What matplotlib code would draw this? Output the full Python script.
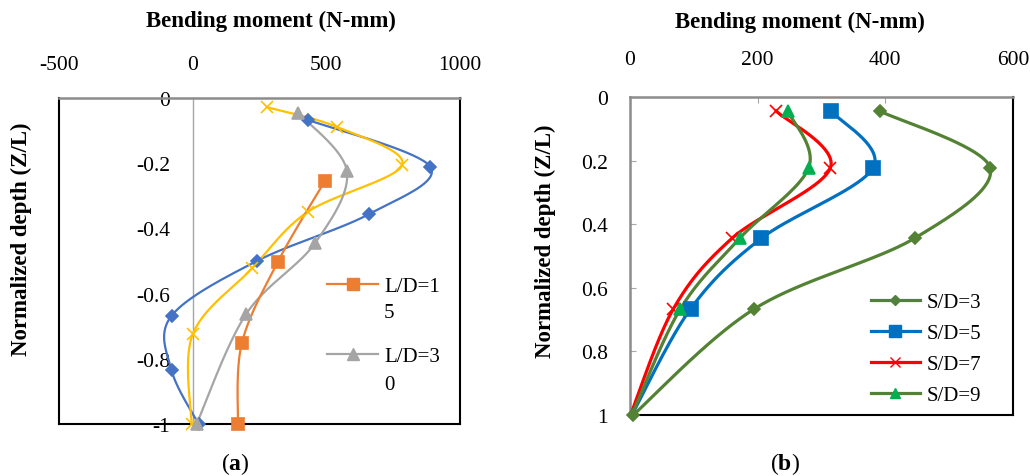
import numpy as np
import matplotlib
matplotlib.use("Agg")
import matplotlib.pyplot as plt
from matplotlib.lines import Line2D

plt.rcParams['font.family'] = ['Liberation Serif', 'DejaVu Serif']
plt.rcParams['mathtext.fontset'] = 'custom'
plt.rcParams['mathtext.rm'] = 'Liberation Serif'
plt.rcParams['mathtext.bf'] = 'Liberation Serif:bold'

# ---------------- data: panel (a) ----------------
a_blue_x = [431, 889, 660, 240, -79, -79, 22]
a_blue_y = [-0.067, -0.211, -0.356, -0.500, -0.668, -0.835, -1.0]
a_yellow_x = [277, 540, 784, 431, 223, 0, -4]
a_yellow_y = [-0.028, -0.089, -0.205, -0.349, -0.522, -0.725, -1.0]
a_gray_x = [394, 577, 457, 199, 15]
a_gray_y = [-0.045, -0.225, -0.446, -0.664, -1.0]
a_orange_x = [495, 319, 184, 169]
a_orange_y = [-0.254, -0.502, -0.752, -1.0]
a_xticks = [-500, 0, 500, 1000]
a_yticks = [0, -0.2, -0.4, -0.6, -0.8, -1]
a_ytick_labels = ['0', '-0.2', '-0.4', '-0.6', '-0.8', '-1']
a_legend_first = ['L/D=1', 'L/D=3']   # legend text wraps onto a second line
a_legend_second = ['5', '0']

# ---------------- data: panel (b) ----------------
b_y = [0.044, 0.222, 0.444, 0.666, 1.0]
b_sd3_x = [391, 564, 446, 195, 5]
b_sd5_x = [315, 381, 206, 95, 3]
b_sd7_x = [229, 314, 160, 68, 1]
b_sd9_x = [247, 280, 172, 79, 3]
b_labels = ['S/D=3', 'S/D=5', 'S/D=7', 'S/D=9']
b_xticks = [0, 200, 400, 600]
b_yticks = [0, 0.2, 0.4, 0.6, 0.8, 1]
b_ytick_labels = ['0', '0.2', '0.4', '0.6', '0.8', '1']

W, H = 1030, 477
fig = plt.figure(figsize=(W / 100, H / 100), dpi=100)


def fx(px):
    return px / W


def fy(py):
    return 1 - py / H


def smooth(ax, xs, ys, n=40):
    """Excel-like smoothed line (Catmull-Rom Bezier) computed in display space."""
    pts = ax.transData.transform(np.column_stack([xs, ys]))
    P = np.vstack([pts[0], pts, pts[-1]])
    out = []
    t = np.linspace(0, 1, n)[:, None]
    for i in range(1, len(P) - 2):
        p0, p1, p2, p3 = P[i - 1], P[i], P[i + 1], P[i + 2]
        c1 = p1 + (p2 - p0) / 6.0
        c2 = p2 - (p3 - p1) / 6.0
        seg = ((1 - t) ** 3) * p1 + 3 * ((1 - t) ** 2) * t * c1 + 3 * (1 - t) * t ** 2 * c2 + t ** 3 * p2
        out.append(seg if i == 1 else seg[1:])
    out = np.vstack(out)
    data = ax.transData.inverted().transform(out)
    return data[:, 0], data[:, 1]


tick_fs = 15.5
lab_fs = 16.5
leg_fs = 15
GRAY = '#A6A6A6'
DGRAY = '#8C8C8C'

# ================= panel (a) =================
axa = fig.add_axes([fx(59), fy(425), (460 - 59) / W, (425 - 99) / H])
axa.set_xlim(-500, 1000)
axa.set_ylim(-1, 0)
axa.xaxis.tick_top()
axa.set_xticks(a_xticks)
axa.set_xticklabels([str(v) for v in a_xticks])
axa.set_yticks(a_yticks)
axa.set_yticklabels(a_ytick_labels)
axa.tick_params(axis='both', length=0, labelsize=tick_fs)
axa.tick_params(axis='x', pad=17)
axa.tick_params(axis='y', pad=16)
axa.spines['left'].set_position(('data', 0))
axa.spines['left'].set_color(GRAY)
axa.spines['left'].set_linewidth(1.0)
axa.spines['top'].set_color(DGRAY)
axa.spines['top'].set_linewidth(1.8)
for s in ['bottom', 'right']:
    axa.spines[s].set_color('black')
    axa.spines[s].set_linewidth(1.5)
axa.plot([0, 0], [0, 1], transform=axa.transAxes, color='black', lw=1.5, clip_on=False)

series_a = [
    (a_blue_x, a_blue_y, '#4472C4', 'D', 6.0, None),
    (a_yellow_x, a_yellow_y, '#FFC000', 'x', 9, None),
    (a_gray_x, a_gray_y, '#A5A5A5', '^', 8, 1),
    (a_orange_x, a_orange_y, '#ED7D31', 's', 9, 0),
]
handles_a = [None, None]
for xs, ys, c, m, ms, li in series_a:
    sx, sy = smooth(axa, xs, ys)
    axa.plot(sx, sy, color=c, lw=1.6, clip_on=False, zorder=3)
    axa.plot(xs, ys, linestyle='none', marker=m, color=c, ms=ms, mew=1.2,
             clip_on=False, zorder=4)
    if li is not None:
        handles_a[li] = Line2D([], [], color=c, lw=1.6, marker=m, ms=ms)

fsz_px = leg_fs * 100 / 72
axa.legend(handles_a, a_legend_first, loc='upper left',
           bbox_to_anchor=(fx(327), fy(290 - fsz_px * 0.6)),
           bbox_transform=fig.transFigure, borderpad=0, borderaxespad=0,
           frameon=False, fontsize=leg_fs, handlelength=2.45,
           handletextpad=0.3, labelspacing=(71 - fsz_px) / fsz_px)
for txt, py in zip(a_legend_second, [314, 386]):
    fig.text(fx(384), fy(py), txt, ha='left', va='center', fontsize=leg_fs)

fig.text(fx(271), fy(21), 'Bending moment (N-mm)', ha='center', va='center',
         fontsize=lab_fs, fontweight='bold')
fig.text(fx(21), fy(239), 'Normalized depth (Z/L)', ha='center', va='center',
         fontsize=lab_fs, fontweight='bold', rotation=90)
fig.text(fx(235), fy(464), r'($\mathbf{a}$)', ha='center', va='center', fontsize=17)

# ================= panel (b) =================
axb = fig.add_axes([fx(630), fy(416), (1013 - 630) / W, (416 - 98) / H])
axb.set_xlim(0, 600)
axb.set_ylim(1, 0)
axb.xaxis.tick_top()
axb.set_xticks(b_xticks)
axb.set_xticklabels([str(v) for v in b_xticks])
axb.set_yticks(b_yticks)
axb.set_yticklabels(b_ytick_labels)
axb.tick_params(axis='both', direction='in', length=4, color=GRAY, labelsize=tick_fs)
axb.tick_params(axis='x', pad=20)
axb.tick_params(axis='y', pad=16)
for s in ['left', 'top']:
    axb.spines[s].set_color(DGRAY)
    axb.spines[s].set_linewidth(1.8)
for s in ['bottom', 'right']:
    axb.spines[s].set_color('black')
    axb.spines[s].set_linewidth(1.5)

series_b = [
    (b_sd3_x, '#548235', '#548235', 'D', 6.0, None),
    (b_sd5_x, '#0070C0', '#0070C0', 's', 10, slice(0, 4)),
    (b_sd7_x, '#FF0000', '#FF0000', 'x', 9, slice(0, 4)),
    (b_sd9_x, '#548235', '#00B050', '^', 9, slice(0, 4)),
]
handles_b = []
for xs, lc, mc, m, ms, mev in series_b:
    sx, sy = smooth(axb, xs, b_y)
    axb.plot(sx, sy, color=lc, lw=2.3, clip_on=False, zorder=3)
    axb.plot(xs, b_y, linestyle='none', marker=m, color=mc, ms=ms, mew=1.2,
             markevery=mev, clip_on=False, zorder=4)
    handles_b.append(Line2D([], [], color=lc, lw=2.3, marker=m, ms=ms * 0.85,
                            markerfacecolor=mc, markeredgecolor=mc))

axb.legend(handles_b, b_labels, loc='upper left',
           bbox_to_anchor=(fx(871), fy(306 - fsz_px * 0.6)),
           bbox_transform=fig.transFigure, borderpad=0, borderaxespad=0,
           frameon=False, fontsize=leg_fs, handlelength=2.35, handletextpad=0.3,
           labelspacing=(32.3 - fsz_px) / fsz_px)

fig.text(fx(800), fy(22), 'Bending moment (N-mm)', ha='center', va='center',
         fontsize=lab_fs, fontweight='bold')
fig.text(fx(545), fy(241), 'Normalized depth (Z/L)', ha='center', va='center',
         fontsize=lab_fs, fontweight='bold', rotation=90)
fig.text(fx(785), fy(464), r'($\mathbf{b}$)', ha='center', va='center', fontsize=17)

fig.savefig('out.png', dpi=100)
